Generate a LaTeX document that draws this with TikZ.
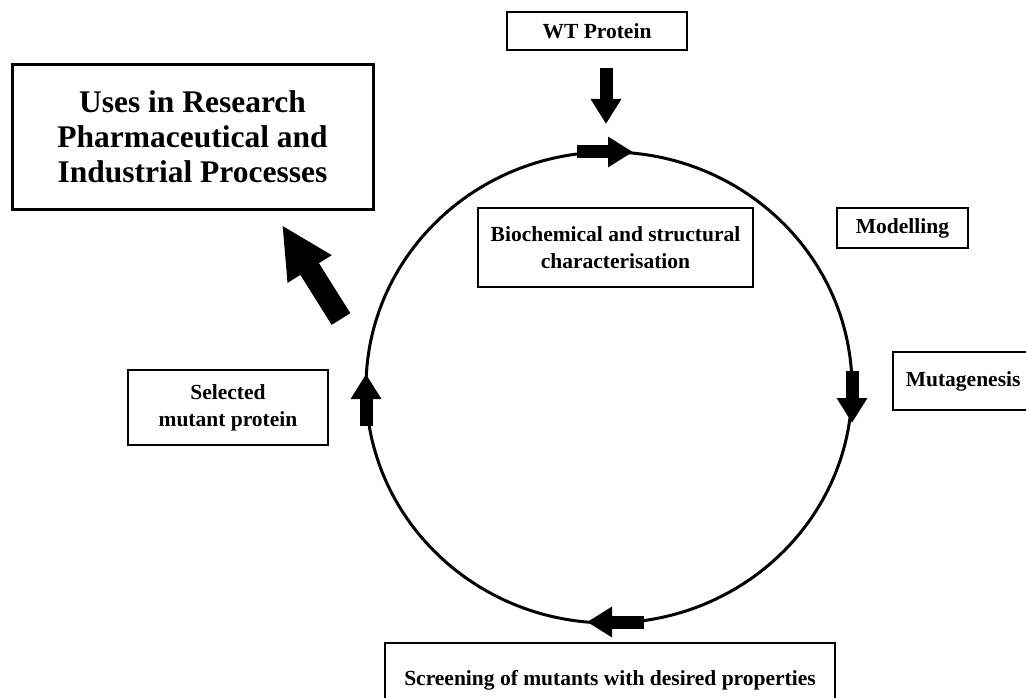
\documentclass[tikz,border=0pt]{standalone}
\usepackage{fontspec}
\setmainfont{Liberation Serif}
\usetikzlibrary{arrows.meta,shapes.geometric}
\begin{document}
\begin{tikzpicture}[x=1pt,y=-1pt,
  smallbox/.style={draw, line width=1.6pt, inner sep=0pt, align=center,
    font=\fontsize{21.5}{27}\selectfont\bfseries},
  cyclearrow/.style={line width=13pt, -{Triangle[length=25pt,width=29pt]}},
  bigarrow/.style={line width=22pt, -{Triangle[length=52pt,width=48pt]}}
]
\useasboundingbox (0,0) rectangle (1026,698);

% cycle
\node[draw, ellipse, line width=3pt, inner sep=0pt,
      minimum width=486pt, minimum height=471pt] (cyc) at (609,387.5) {};

% boxes
\node[smallbox, minimum width=180pt, minimum height=38pt] (wt) at (597,31) {WT Protein};
\node[draw, line width=3pt, inner sep=0pt, align=center,
      minimum width=361pt, minimum height=144pt,
      font=\fontsize{31.5}{35}\selectfont\bfseries] (uses) at (192.5,137)
      {Uses in Research\\Pharmaceutical and\\Industrial Processes};
\node[smallbox, minimum width=275pt, minimum height=79pt] (bio) at (615.5,247.5)
      {Biochemical and structural\\characterisation};
\node[smallbox, minimum width=131pt, minimum height=40pt] (mod) at (902.5,228) {Modelling};
\node[smallbox, anchor=west, minimum height=58pt, inner xsep=13pt] (muta) at (892,381) {Mutagenesis};
\node[smallbox, minimum width=200pt, minimum height=75pt] (sel) at (228,407.5)
      {Selected\\mutant protein};
\node[smallbox, minimum width=450pt, minimum height=74pt] (scr) at (610,680)
      {Screening of mutants with desired properties};

% arrow end points
\coordinate (t1) at (577,152); \coordinate (t2) at (633,152);
\coordinate (r1) at (852,371); \coordinate (r2) at (852,423);
\coordinate (b1) at (644,622); \coordinate (b2) at (587,622);
\coordinate (l1) at (366,426); \coordinate (l2) at (366,374);
\coordinate (w1) at (606,68);  \coordinate (w2) at (606,124);
\coordinate (u1) at (341,319); \coordinate (u2) at (282,225);

% arrows on the cycle
\draw[cyclearrow] (t1) -- (t2);
\draw[cyclearrow] (r1) -- (r2);
\draw[cyclearrow] (b1) -- (b2);
\draw[cyclearrow] (l1) -- (l2);

% entry and exit arrows
\draw[cyclearrow] (w1) -- (w2);
\draw[bigarrow] (u1) -- (u2);
\end{tikzpicture}
\end{document}
